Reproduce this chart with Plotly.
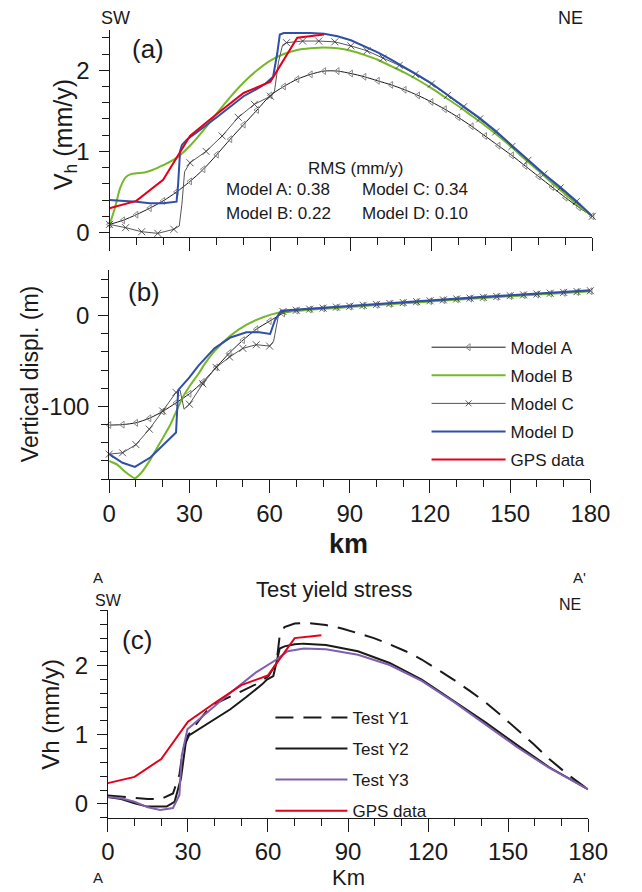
import plotly.graph_objects as go

W, H = 642, 892

# ---------------- Panel (a): horizontal velocity (mm/y) ----------------
km_a_A = list(range(0, 181, 5))
vh_A = [0.10, 0.15, 0.22, 0.30, 0.39, 0.50, 0.63, 0.78, 0.96, 1.15, 1.33, 1.51, 1.69,
        1.80, 1.89, 1.95, 1.99, 1.99, 1.96, 1.92, 1.87, 1.82, 1.76, 1.69, 1.61, 1.52,
        1.42, 1.31, 1.19, 1.07, 0.95, 0.82, 0.69, 0.56, 0.43, 0.31, 0.20]

km_a_B = [0, 2, 4, 6, 8, 10, 13, 16, 20] + list(range(25, 181, 5))
vh_B = [0.10, 0.30, 0.55, 0.68, 0.72, 0.73, 0.74, 0.77, 0.83,
        0.92, 1.07, 1.26, 1.47, 1.67, 1.85, 2.00, 2.12, 2.20, 2.25, 2.27, 2.28, 2.27,
        2.24, 2.19, 2.13, 2.05, 1.97, 1.88, 1.78, 1.67, 1.56, 1.44, 1.32, 1.19, 1.05,
        0.90, 0.76, 0.61, 0.47, 0.33, 0.20]

km_a_C = [0, 6, 12, 18, 24, 26, 27, 28, 30, 36, 42, 48, 54, 60, 61.5, 63, 64.5] + list(range(66, 181, 6))
vh_C = [0.10, 0.06, 0.01, -0.01, 0.04, 0.08, 0.35, 0.75, 0.86, 1.00, 1.19, 1.42, 1.58,
        1.68, 1.74, 2.10, 2.31,
        2.34, 2.36, 2.36, 2.35, 2.30, 2.24, 2.15, 2.06, 1.95, 1.83, 1.69, 1.55, 1.40,
        1.24, 1.06, 0.89, 0.72, 0.55, 0.38, 0.20]

km_a_D = [0, 5, 10, 15, 20, 25, 25.6, 26.3, 27, 29, 32, 40, 45, 50, 55, 58, 61, 62.5,
          63.5, 65, 70, 75, 80, 85, 90, 95, 100, 105, 110, 115, 120, 126, 132, 138,
          144, 150, 156, 162, 168, 174, 180]
vh_D = [0.40, 0.39, 0.38, 0.36, 0.36, 0.38, 0.60, 1.00, 1.08, 1.15, 1.22, 1.42, 1.55,
        1.68, 1.77, 1.83, 1.92, 2.20, 2.44, 2.46, 2.46, 2.46, 2.45, 2.42, 2.37, 2.30,
        2.22, 2.13, 2.04, 1.94, 1.84, 1.70, 1.56, 1.41, 1.25, 1.07, 0.90, 0.72, 0.56,
        0.39, 0.20]

km_gps = [0, 10, 20, 30, 40, 50, 60, 70, 80]
vh_gps = [0.30, 0.39, 0.65, 1.19, 1.46, 1.72, 1.86, 2.40, 2.44]

rms_labels = ["Model A: 0.38", "Model B: 0.22", "Model C: 0.34", "Model D: 0.10"]

# ---------------- Panel (b): vertical displacement (m) ----------------
km_b_A = list(range(0, 181, 5))
vd_A = [-120.5, -120, -118, -113, -105.5, -96, -86, -73, -57, -41, -27, -15, -6,
        2.5, 5.5, 6.8, 7.9, 8.9, 9.9, 10.9, 11.9, 12.9, 13.9, 14.9, 15.9, 16.9, 17.9,
        18.8, 19.7, 20.6, 21.5, 22.4, 23.3, 24.2, 25.1, 26.0, 26.9]

km_b_B = [0, 3, 6, 9.6, 12, 15.5, 19, 22.7, 25, 27.5, 30, 33.4, 36, 39.4, 45.4, 51.4,
          57.3, 63.2, 70, 80, 90, 100, 110, 120, 130, 140, 150, 160, 170, 180]
vd_B = [-160, -164, -172, -179, -173, -158, -140, -121, -106, -90, -78, -64, -52, -39,
        -22, -10, -2, 3.2, 5.2, 7.5, 9.6, 11.6, 13.6, 15.6, 17.6, 19.5, 21.4, 23.2,
        25.0, 26.8]

km_b_C = [0, 5, 10, 15, 20, 25, 26.5, 28, 30, 35, 40, 45, 50, 55, 60, 61.5, 63.5, 65] + list(range(70, 181, 5))
vd_C = [-152.5, -151, -142, -125, -105, -84.5, -82, -103, -97.5, -75, -57, -45.5, -36,
        -32, -33.5, -28, 3, 4.5,
        6.0, 7.2, 8.3, 9.4, 10.4, 11.4, 12.4, 13.4, 14.4, 15.4, 16.4, 17.4, 18.4, 19.3,
        20.2, 21.1, 22.0, 22.9, 23.8, 24.7, 25.6, 26.5, 27.4]

km_b_D = [0, 5, 9.6, 15.5, 20, 25, 25.8, 30, 33.4, 39.4, 45.4, 51.3, 56.1, 60.2, 62,
          64.3, 69.1, 80, 90, 100, 110, 120, 130, 140, 150, 160, 170, 180]
vd_D = [-152.5, -162, -166.5, -156, -143, -128.6, -82, -68, -55, -36, -24, -18.4,
        -18.4, -20.2, -5, 5.5, 6.6, 8.9, 10.9, 12.9, 14.9, 16.9, 18.9, 20.8, 22.6,
        24.4, 26.2, 28.0]

vd_tick_vals = [-100, 0]
vd_tick_text = ["-100", "0"]

# ---------------- Panel (c): test yield stress ----------------
km_c_Y1 = [0, 5, 10, 15, 20, 24.4, 26.8, 28, 30, 34, 38.7, 45.9, 50, 55.4, 60.2, 63.2,
           64.4, 66.2, 70, 75, 81.7, 87.7, 93.7, 99.7, 105.6, 111.6, 117.6, 123.5,
           129.5, 135.5, 141.5, 147.4, 153.4, 159.4, 165.4, 172.5, 180]
vh_Y1 = [0.12, 0.10, 0.08, 0.07, 0.07, 0.15, 0.42, 0.75, 0.99, 1.20, 1.42, 1.56, 1.63,
         1.73, 1.85, 2.04, 2.44, 2.56, 2.61, 2.62, 2.59, 2.54, 2.47, 2.40, 2.31, 2.21,
         2.09, 1.95, 1.80, 1.64, 1.47, 1.28, 1.08, 0.87, 0.65, 0.42, 0.21]

km_c_Y2 = [0, 5, 10, 14.8, 22, 25, 27.4, 29.2, 30.4, 38, 45.9, 52, 57.8, 59.6, 62, 64.4,
           66.2, 70, 73.4, 81.7, 93.7, 105.6, 117.6, 129.5, 141.5, 153.4, 165.4, 180]
vh_Y2 = [0.10, 0.07, 0.01, -0.04, -0.04, 0.03, 0.37, 0.89, 0.99, 1.18, 1.37, 1.55, 1.73,
         1.80, 1.85, 2.25, 2.28, 2.31, 2.32, 2.30, 2.21, 2.04, 1.80, 1.49, 1.18, 0.85,
         0.53, 0.21]

km_c_Y3 = [0, 5, 10, 15, 19.6, 24.4, 26.8, 27.7, 29.8, 38.7, 45.9, 55.4, 61.4, 63.2,
           67.4, 73.4, 81.7, 93.7, 105.6, 117.6, 129.5, 141.5, 153.4, 165.4, 180]
vh_Y3 = [0.10, 0.08, 0.03, -0.05, -0.09, -0.06, 0.13, 0.70, 1.08, 1.37, 1.61, 1.90,
         2.04, 2.09, 2.21, 2.25, 2.24, 2.16, 2.01, 1.78, 1.48, 1.15, 0.82, 0.52, 0.21]

x_ticks = [0, 30, 60, 90, 120, 150, 180]

# ---------------- styles ----------------
FONT = "Liberation Sans"
INK = "#1a1a1a"
GREEN = "#76b82a"
BLUE = "#2f4fa8"
RED = "#e3001b"
PURPLE = "#8060ad"


def px_x(p):
    return p / W


def px_y(p):
    return 1 - p / H


def sizes(kms, step, s):
    return [s if abs(k / step - round(k / step)) < 1e-9 else 0 for k in kms]


fig = go.Figure()

tri = dict(symbol="triangle-left-open", size=6, color="#8a8a8a", line=dict(width=1, color="#8a8a8a"))


def xm(kms, step):
    return dict(symbol="x-thin", size=sizes(kms, step, 7), color=INK, line=dict(width=1, color=INK))


# Panel (a) traces (also feed legend 1)
fig.add_trace(go.Scatter(x=km_a_A, y=vh_A, name="Model A", mode="lines+markers",
                         line=dict(color=INK, width=1, shape="spline", smoothing=0.8),
                         marker=tri, xaxis="x", yaxis="y", legend="legend", cliponaxis=False))
fig.add_trace(go.Scatter(x=km_a_B, y=vh_B, name="Model B", mode="lines",
                         line=dict(color=GREEN, width=2, shape="spline", smoothing=0.8),
                         xaxis="x", yaxis="y", legend="legend"))
fig.add_trace(go.Scatter(x=km_a_C, y=vh_C, name="Model C", mode="lines+markers",
                         line=dict(color="#555555", width=1),
                         marker=xm(km_a_C, 6), xaxis="x", yaxis="y", legend="legend", cliponaxis=False))
fig.add_trace(go.Scatter(x=km_a_D, y=vh_D, name="Model D", mode="lines",
                         line=dict(color=BLUE, width=2),
                         xaxis="x", yaxis="y", legend="legend"))
fig.add_trace(go.Scatter(x=km_gps, y=vh_gps, name="GPS data", mode="lines",
                         line=dict(color=RED, width=2),
                         xaxis="x", yaxis="y", legend="legend"))

# Panel (b) traces
fig.add_trace(go.Scatter(x=km_b_A, y=vd_A, name="Model A", mode="lines+markers", showlegend=False,
                         line=dict(color=INK, width=1, shape="spline", smoothing=0.6),
                         marker=tri, xaxis="x2", yaxis="y2", cliponaxis=False))
fig.add_trace(go.Scatter(x=km_b_B, y=vd_B, name="Model B", mode="lines", showlegend=False,
                         line=dict(color=GREEN, width=2, shape="spline", smoothing=0.6),
                         xaxis="x2", yaxis="y2"))
fig.add_trace(go.Scatter(x=km_b_C, y=vd_C, name="Model C", mode="lines+markers", showlegend=False,
                         line=dict(color="#555555", width=1),
                         marker=xm(km_b_C, 5), xaxis="x2", yaxis="y2", cliponaxis=False))
fig.add_trace(go.Scatter(x=km_b_D, y=vd_D, name="Model D", mode="lines", showlegend=False,
                         line=dict(color=BLUE, width=2),
                         xaxis="x2", yaxis="y2"))

# Panel (c) traces (legend 2)
fig.add_trace(go.Scatter(x=km_c_Y1, y=vh_Y1, name="Test Y1", mode="lines",
                         line=dict(color=INK, width=2, dash="18px,10px"),
                         xaxis="x3", yaxis="y3", legend="legend2"))
fig.add_trace(go.Scatter(x=km_c_Y2, y=vh_Y2, name="Test Y2", mode="lines",
                         line=dict(color=INK, width=2),
                         xaxis="x3", yaxis="y3", legend="legend2"))
fig.add_trace(go.Scatter(x=km_c_Y3, y=vh_Y3, name="Test Y3", mode="lines",
                         line=dict(color=PURPLE, width=2),
                         xaxis="x3", yaxis="y3", legend="legend2"))
fig.add_trace(go.Scatter(x=km_gps, y=vh_gps, name="GPS data", mode="lines",
                         line=dict(color=RED, width=2),
                         xaxis="x3", yaxis="y3", legend="legend2"))


def xax(dom, anchor, labels):
    return dict(domain=dom, anchor=anchor, range=[0, 180], showline=True, linecolor=INK,
                linewidth=1, ticks="outside", tickvals=x_ticks, ticklen=13, tickcolor=INK,
                tickwidth=1, minor=dict(dtick=10, tick0=0, ticks="outside", ticklen=7,
                                        tickcolor=INK, tickwidth=1, showgrid=False),
                showticklabels=labels, tickfont=dict(size=24, color=INK, family=FONT),
                showgrid=False, zeroline=False, fixedrange=True)


def yax(dom, anchor, rng, dtick, mdt):
    return dict(domain=dom, anchor=anchor, range=rng, showline=True, linecolor=INK,
                linewidth=1, ticks="outside", dtick=dtick, tick0=0, ticklen=10, tickcolor=INK,
                tickwidth=1, minor=dict(dtick=mdt, tick0=0, ticks="outside", ticklen=7,
                                        tickcolor=INK, tickwidth=1, showgrid=False),
                tickfont=dict(size=24, color=INK, family=FONT), ticklabelstandoff=4,
                showgrid=False, zeroline=False, fixedrange=True)


ann = []


def text(s, x, y, size, **kw):
    ann.append(dict(text=s, x=px_x(x), y=px_y(y), xref="paper", yref="paper",
                    showarrow=False, xanchor=kw.get("xanchor", "center"), yanchor="middle",
                    textangle=kw.get("angle", 0),
                    font=dict(size=size, color=INK, family=FONT)))


text("SW", 113, 18, 18)
text("NE", 588, 18, 18)
text("(a)", 147, 50, 26)
text("V<sub>h</sub> (mm/y)", 60, 136, 25, angle=-90)
text("RMS (mm/y)", 364, 170, 17)
text(rms_labels[0], 227, 191, 17, xanchor="left")
text(rms_labels[2], 368, 191, 17, xanchor="left")
text(rms_labels[1], 227, 216, 17, xanchor="left")
text(rms_labels[3], 368, 216, 17, xanchor="left")
text("(b)", 143, 295, 26)
text("Vertical displ. (m)", 24, 378, 23, angle=-90)
text("<b>km</b>", 357, 550, 27)
text("A", 95, 583, 15)
text("A'", 598, 583, 15)
text("Test yield stress", 342, 596, 22)
text("SW", 106, 607, 16)
text("NE", 588, 611, 16)
text("(c)", 136, 647, 26)
text("Vh (mm/y)", 46, 722, 24, angle=-90)
text("Km", 357, 886, 22)
text("A", 95, 886, 15)
text("A'", 598, 886, 15)

yaxis2 = yax([px_y(484), px_y(273)], "x2", [-180, 50], 100, 20)
yaxis2.pop("dtick")
yaxis2.pop("tick0")
yaxis2.update(tickmode="array", tickvals=vd_tick_vals, ticktext=vd_tick_text)

fig.update_layout(
    width=W, height=H, autosize=False,
    margin=dict(l=0, r=0, t=0, b=0),
    paper_bgcolor="white", plot_bgcolor="white",
    font=dict(family=FONT, color=INK),
    xaxis=xax([px_x(107), px_x(611)], "y", False),
    yaxis=yax([px_y(239), px_y(30)], "x", [-0.05, 2.5], 1, 0.2),
    xaxis2=xax([px_x(106.7), px_x(609)], "y2", True),
    yaxis2=yaxis2,
    xaxis3=xax([px_x(105.3), px_x(606.7)], "y3", True),
    yaxis3=yax([px_y(826), px_y(616.7)], "x3", [-0.2, 2.8], 1, 0.2),
    legend=dict(x=px_x(438), y=px_y(333), xanchor="left", yanchor="top",
                bgcolor="rgba(0,0,0,0)", font=dict(size=17, color=INK, family=FONT),
                itemwidth=74, tracegroupgap=3, itemclick=False, itemdoubleclick=False),
    legend2=dict(x=px_x(275), y=px_y(707), xanchor="left", yanchor="top",
                 bgcolor="rgba(0,0,0,0)", font=dict(size=17, color=INK, family=FONT),
                 itemwidth=72, tracegroupgap=6, itemclick=False, itemdoubleclick=False),
    annotations=ann,
    showlegend=True,
)

# separate legend groups so tracegroupgap spaces the rows
for i, tr in enumerate(fig.data):
    tr.legendgroup = "g%d" % i

fig.write_html("out.html", config={"displayModeBar": False, "staticPlot": True},
               post_script="document.body.style.margin='0';document.body.style.overflow='hidden';")
